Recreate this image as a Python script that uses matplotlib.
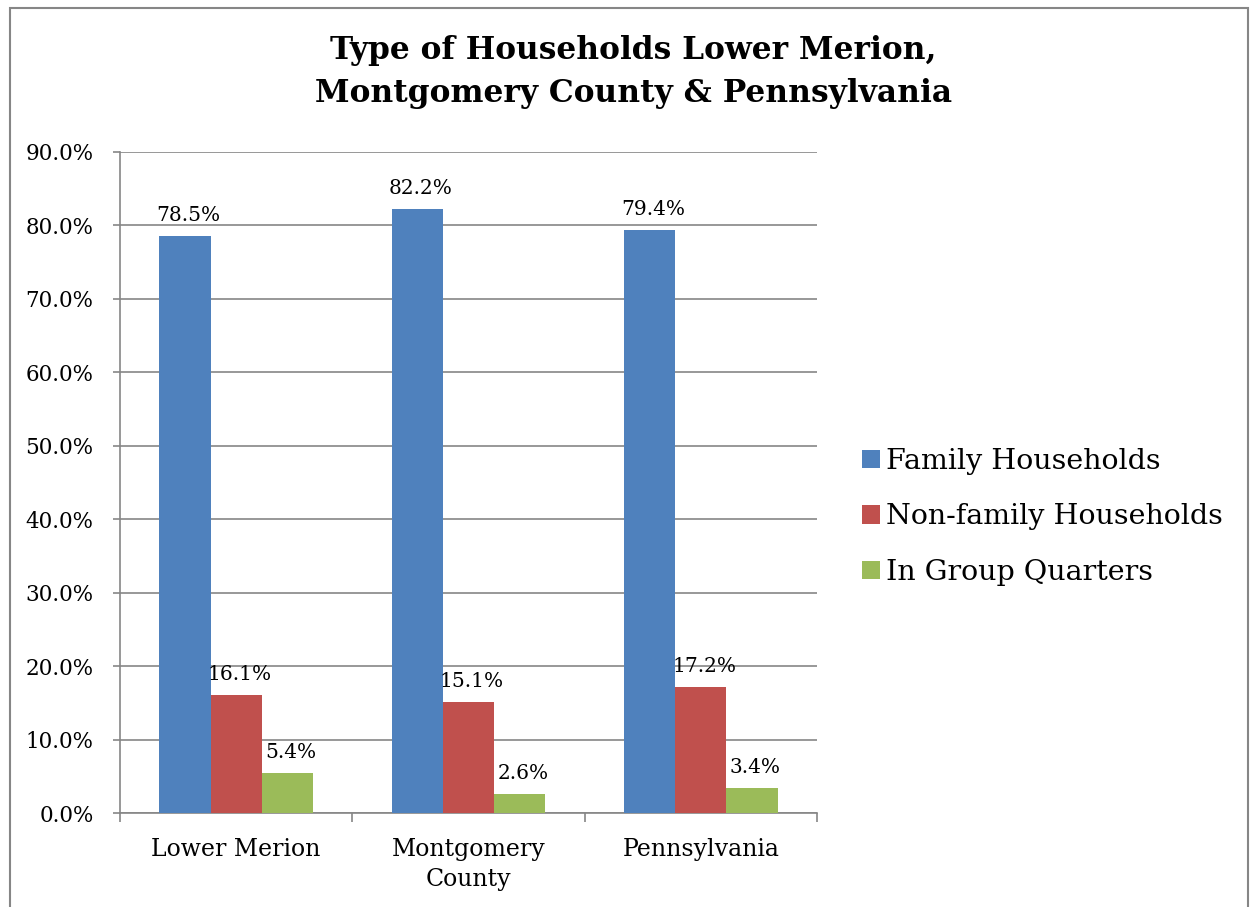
import matplotlib.pyplot as plt
import numpy as np
from matplotlib.patches import Rectangle

plt.rcParams['font.family'] = ['DejaVu Serif']

places = ['Lower Merion', 'Montgomery\nCounty', 'Pennsylvania']
series = ['Family Households', 'Non-family Households', 'In Group Quarters']
family = [78.5, 82.2, 79.4]
nonfamily = [16.1, 15.1, 17.2]
group_q = [5.4, 2.6, 3.4]
colors = ['#4f81bd', '#c0504d', '#9bbb59']

fig = plt.figure(figsize=(12.52, 9.07), dpi=100)
ax = fig.add_axes([120 / 1252, 94 / 907, 697 / 1252, 661 / 907])

x = np.arange(len(places))
w = 0.22
for i, (vals, name) in enumerate(zip([family, nonfamily, group_q], series)):
    bars = ax.bar(x + (i - 1) * w, vals, w, color=colors[i], label=name, zorder=3)
    for b, v in zip(bars, vals):
        ax.annotate(f'{v:.1f}%', (b.get_x() + b.get_width() / 2 + 0.015, v),
                    xytext=(0, 8), textcoords='offset points',
                    ha='center', va='bottom', fontsize=14.5)

ax.set_xlim(-0.5, 2.5)
ax.set_ylim(0, 90)
ax.set_yticks(np.arange(0, 91, 10))
ax.set_yticklabels([f'{t:.1f}%' for t in np.arange(0, 91, 10)], fontsize=15.5)
ax.set_xticks(x)
ax.set_xticklabels(places, fontsize=17, linespacing=1.4)
ax.tick_params(axis='x', length=0, pad=18)
ax.set_xticks([-0.5, 0.5, 1.5, 2.5], minor=True)
ax.tick_params(axis='x', which='minor', length=6.5, color='#868686', width=1.2)
ax.tick_params(axis='y', length=5, color='#868686', width=1.2, pad=14)
ax.grid(axis='y', color='#868686', linewidth=1.2, zorder=0)
for s in ['top', 'right']:
    ax.spines[s].set_visible(False)
for s in ['left', 'bottom']:
    ax.spines[s].set_color('#868686')
    ax.spines[s].set_linewidth(1.2)

ax.legend(loc='center left', bbox_to_anchor=(862 / 1252, 1 - 517 / 907),
          bbox_transform=fig.transFigure, frameon=False, borderpad=0,
          borderaxespad=0, fontsize=20.5, handlelength=0.63, handleheight=0.63,
          handletextpad=0.2, labelspacing=1.0)

fig.text(0.506, 1 - 72 / 907, 'Type of Households Lower Merion,\nMontgomery County & Pennsylvania',
         ha='center', va='center', fontsize=22.5, fontweight='bold', linespacing=1.5)

fig.patches.append(Rectangle((10 / 1252, -0.01), 1238 / 1252, 1 - 8 / 907 + 0.01,
                             transform=fig.transFigure, fill=False,
                             edgecolor='#868686', linewidth=1.5))

fig.savefig('out.png', dpi=100)
